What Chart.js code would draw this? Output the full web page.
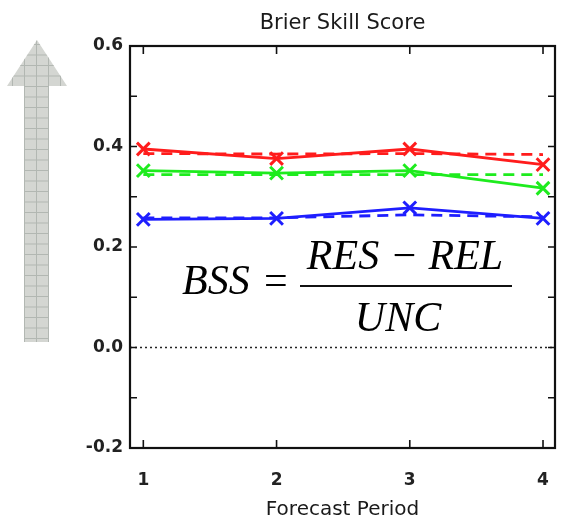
<!DOCTYPE html>
<html lang="en">
<head>
    <meta charset="UTF-8">
    <title>Brier Skill Score</title>
    <script src="https://cdn.jsdelivr.net/npm/chart.js"></script>
    <style>
        body { margin: 0; background: #fff; }
        #chart { display: block; }
    </style>
</head>
<body>
    <canvas id="chart" width="562" height="525"></canvas>

    <script>
        // data
        const periods = [1, 2, 3, 4];
        const redSolid = [0.395, 0.376, 0.395, 0.364];
        const redDashed = [0.386, 0.385, 0.386, 0.384];
        const greenSolid = [0.352, 0.347, 0.352, 0.317];
        const greenDashed = [0.344, 0.344, 0.344, 0.344];
        const blueSolid = [0.255, 0.257, 0.278, 0.257];
        const blueDashed = [0.258, 0.258, 0.264, 0.26];
        const yTicks = [-0.2, 0.0, 0.2, 0.4, 0.6];
        const yMinorTicks = [-0.2, -0.1, 0.0, 0.1, 0.2, 0.3, 0.4, 0.5, 0.6];

        const RED = 'rgb(255, 28, 28)';
        const GREEN = 'rgb(30, 235, 30)';
        const BLUE = 'rgb(30, 30, 255)';

        function pts(values) {
            return periods.map((p, i) => ({ x: p, y: values[i] }));
        }

        function solid(label, values, color) {
            return {
                label: label,
                data: pts(values),
                borderColor: color,
                backgroundColor: color,
                borderWidth: 2.8,
                pointStyle: 'crossRot',
                pointRadius: 9,
                pointBorderWidth: 3,
                tension: 0
            };
        }

        function dashed(label, values, color) {
            return {
                label: label,
                data: pts(values),
                borderColor: color,
                borderWidth: 2.8,
                borderDash: [11, 7],
                pointRadius: 0,
                tension: 0
            };
        }

        // grey gridded arrow on the left
        function drawArrow(ctx) {
            ctx.save();
            ctx.beginPath();
            ctx.moveTo(37, 40);
            ctx.lineTo(67, 86);
            ctx.lineTo(49, 86);
            ctx.lineTo(49, 342);
            ctx.lineTo(24, 342);
            ctx.lineTo(24, 86);
            ctx.lineTo(7, 86);
            ctx.closePath();
            ctx.fillStyle = 'rgb(212, 214, 210)';
            ctx.fill();
            ctx.clip();
            ctx.strokeStyle = 'rgb(178, 183, 178)';
            ctx.lineWidth = 1;
            ctx.beginPath();
            for (let x = 12.5; x < 72; x += 12) {
                ctx.moveTo(x, 36);
                ctx.lineTo(x, 345);
            }
            for (let y = 44.5; y < 345; y += 10.5) {
                ctx.moveTo(0, y);
                ctx.lineTo(75, y);
            }
            ctx.stroke();
            ctx.restore();
        }

        const framePlugin = {
            id: 'frame',
            beforeDraw(chart) {
                const ctx = chart.ctx;
                ctx.save();
                ctx.fillStyle = '#fff';
                ctx.fillRect(0, 0, chart.width, chart.height);
                ctx.restore();
                drawArrow(ctx);
            },
            beforeDatasetsDraw(chart) {
                const ctx = chart.ctx;
                const a = chart.chartArea;
                const ys = chart.scales.y;
                // dotted zero line
                ctx.save();
                ctx.strokeStyle = '#222';
                ctx.lineWidth = 1.5;
                ctx.setLineDash([2, 3]);
                const y0 = ys.getPixelForValue(0);
                ctx.beginPath();
                ctx.moveTo(a.left, y0);
                ctx.lineTo(a.right, y0);
                ctx.stroke();
                ctx.restore();
            },
            afterDraw(chart) {
                const ctx = chart.ctx;
                const a = chart.chartArea;
                const xs = chart.scales.x;
                const ys = chart.scales.y;
                ctx.save();
                ctx.strokeStyle = '#111';
                ctx.lineWidth = 2.2;
                ctx.strokeRect(a.left, a.top, a.right - a.left, a.bottom - a.top);
                // inward ticks
                ctx.lineWidth = 1.6;
                ctx.beginPath();
                yMinorTicks.forEach(v => {
                    const y = ys.getPixelForValue(v);
                    ctx.moveTo(a.left, y);
                    ctx.lineTo(a.left + 7, y);
                    ctx.moveTo(a.right, y);
                    ctx.lineTo(a.right - 7, y);
                });
                periods.forEach(p => {
                    const x = xs.getPixelForValue(p);
                    ctx.moveTo(x, a.bottom);
                    ctx.lineTo(x, a.bottom - 8);
                    ctx.moveTo(x, a.top);
                    ctx.lineTo(x, a.top + 8);
                });
                ctx.stroke();

                // title
                ctx.fillStyle = '#1a1a1a';
                ctx.font = '21px "DejaVu Sans"';
                ctx.textAlign = 'center';
                ctx.textBaseline = 'alphabetic';
                ctx.fillText('Brier Skill Score', (a.left + a.right) / 2, 29);

                // formula
                ctx.fillStyle = '#000';
                ctx.font = 'italic 42px "Liberation Serif"';
                ctx.textAlign = 'left';
                ctx.fillText('BSS', 182, 294);
                ctx.font = '42px "Liberation Serif"';
                ctx.fillText('=', 264, 294);
                ctx.textAlign = 'center';
                ctx.font = 'italic 42px "Liberation Serif"';
                ctx.fillText('RES \u2212 REL', 405, 269);
                ctx.fillText('UNC', 398, 331);
                ctx.lineWidth = 1.8;
                ctx.beginPath();
                ctx.moveTo(300, 286);
                ctx.lineTo(512, 286);
                ctx.stroke();
                ctx.restore();
            }
        };

        const tickFont = { family: 'DejaVu Sans', size: 17, weight: 'bold' };

        new Chart(document.getElementById('chart'), {
            type: 'line',
            data: {
                datasets: [
                    dashed('Red reference', redDashed, RED),
                    dashed('Green reference', greenDashed, GREEN),
                    dashed('Blue reference', blueDashed, BLUE),
                    solid('Red', redSolid, RED),
                    solid('Green', greenSolid, GREEN),
                    solid('Blue', blueSolid, BLUE)
                ]
            },
            options: {
                responsive: false,
                animation: false,
                layout: {
                    autoPadding: false,
                    padding: { top: 46, right: 7, left: 0, bottom: 0 }
                },
                plugins: {
                    legend: { display: false },
                    title: { display: false },
                    tooltip: { enabled: false }
                },
                scales: {
                    x: {
                        type: 'linear',
                        min: 0.9,
                        max: 4.09,
                        afterBuildTicks: scale => { scale.ticks = periods.map(v => ({ value: v })); },
                        afterFit: scale => {
                            scale.height = 77;
                            scale.paddingLeft = 0;
                            scale.paddingRight = 0;
                        },
                        grid: { display: false, drawTicks: false },
                        border: { display: false },
                        ticks: {
                            font: tickFont,
                            color: '#222',
                            padding: 22,
                            maxRotation: 0,
                            callback: v => String(v)
                        },
                        title: {
                            display: true,
                            text: 'Forecast Period',
                            font: { family: 'DejaVu Sans', size: 20 },
                            color: '#1a1a1a',
                            padding: { top: 0, bottom: 3 }
                        }
                    },
                    y: {
                        min: -0.2,
                        max: 0.6,
                        afterBuildTicks: scale => { scale.ticks = yTicks.map(v => ({ value: v })); },
                        afterFit: scale => {
                            scale.width = 130;
                            scale.paddingTop = 0;
                            scale.paddingBottom = 0;
                        },
                        grid: { display: false, drawTicks: false },
                        border: { display: false },
                        ticks: {
                            font: tickFont,
                            color: '#222',
                            padding: 7,
                            callback: v => v.toFixed(1)
                        }
                    }
                }
            },
            plugins: [framePlugin]
        });
    </script>
</body>
</html>
